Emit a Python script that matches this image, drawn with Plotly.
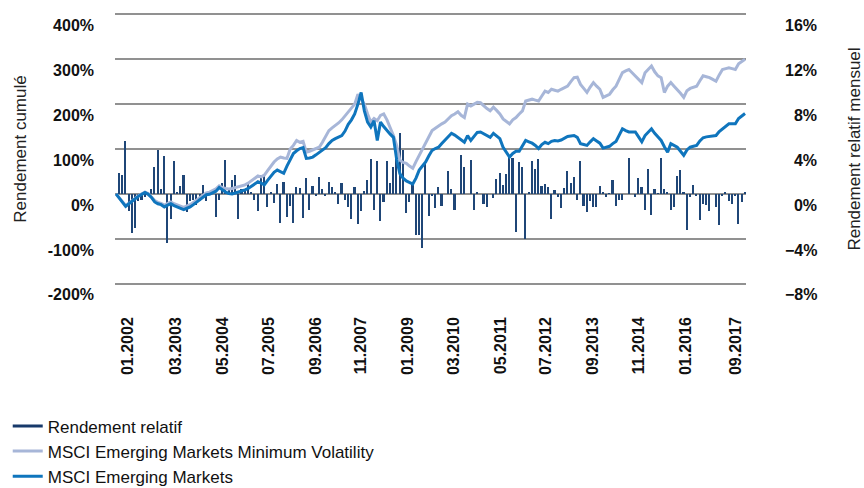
import plotly.graph_objects as go

# ---------------- data ----------------
x_ticklabels = ["01.2002", "03.2003", "05.2004", "07.2005", "09.2006", "11.2007", "01.2009",
                "03.2010", "05.2011", "07.2012", "09.2013", "11.2014", "01.2016", "09.2017"]

# cumulative return, MSCI Emerging Markets (%)
msci_em = [
    0, -9, -20, -28, -22, -16, -10, -5, -1, 3, -1, -8, -18, -22, -24, -29, -25, -22, -26, -29,
    -32, -35, -32, -29, -24, -19, -14, -8, -2, -1, 2, 6, 14, 8, 4, 1, 0, 2, 4, 6,
    9, 12, 17, 22, 27, 24, 20, 30, 40, 48, 53, 50, 46, 62, 78, 90, 96, 101, 103, 79,
    80, 82, 87, 92, 97, 103, 112, 119, 123, 127, 130, 140, 155, 165, 178, 200, 226, 185, 160, 149,
    163, 119, 160, 150, 141, 133, 126, 77, 45, 35, 29, 26, 22, 35, 53, 62, 71, 85, 97, 101,
    104, 112, 119, 127, 135, 131, 126, 120, 115, 130, 119, 128, 137, 138, 134, 130, 126, 135, 129, 123,
    104, 94, 82, 90, 95, 95, 106, 119, 116, 113, 108, 101, 110, 115, 112, 117, 119, 118, 120, 124,
    128, 129, 130, 126, 112, 110, 108, 116, 123, 118, 113, 102, 104, 106, 112, 117, 131, 145, 141, 138,
    138, 138, 127, 116, 130, 138, 145, 135, 126, 119, 105, 93, 112, 108, 104, 95, 86, 98, 104, 106,
    108, 118, 125, 127, 128, 129, 130, 139, 145, 152, 156, 156, 156, 168, 174, 179,
]

# cumulative return, MSCI Emerging Markets Minimum Volatility (%)
msci_em_minvol = [
    0, -8, -18, -26, -21, -15, -9, -4, 0, 4, 1, -6, -15, -19, -21, -25, -21, -18, -22, -25,
    -28, -30, -27, -24, -19, -14, -9, -4, 2, 4, 7, 11, 18, 14, 12, 11, 12, 14, 16, 18,
    20, 24, 30, 36, 40, 38, 42, 52, 62, 71, 78, 82, 80, 79, 100, 108, 119, 115, 117, 93,
    95, 98, 101, 104, 115, 128, 141, 147, 152, 158, 165, 174, 182, 190, 200, 222, 212, 200, 178, 160,
    168, 163, 175, 178, 165, 148, 130, 108, 75, 70, 68, 62, 57, 72, 86, 100, 112, 128, 141, 146,
    152, 156, 160, 167, 174, 178, 183, 175, 170, 200, 196, 200, 204, 203, 196, 190, 185, 193, 186, 178,
    167, 162, 156, 165, 170, 178, 185, 207, 209, 211, 209, 207, 218, 229, 226, 233, 231, 229, 233, 237,
    240, 250, 259, 260, 244, 235, 226, 238, 248, 240, 233, 215, 219, 222, 232, 240, 255, 270, 274, 277,
    270, 262, 255, 248, 270, 278, 285, 272, 263, 259, 226, 240, 248, 240, 233, 224, 215, 230, 235, 238,
    240, 252, 263, 261, 259, 255, 251, 265, 277, 279, 281, 279, 277, 290, 296, 300,
]

# monthly relative return (%)
relative_return = [
    0, 1.9, 1.7, 4.7, -1.5, -3.5, -3.0, -0.6, -0.5, -0.3, 0.1, 0.4, 2.4, 3.9, 0.4, 3.4, -4.4, -2.2, 2.9, 0.1,
    0.7, 1.7, -1.6, -0.6, -0.5, -1.0, -0.6, 0.8, -0.6, 0.2, 0.1, -2.1, -0.5, 1.0, 3.0, 0.4, 1.2, 1.7, -2.2, 0.4,
    0.4, 0.9, 0.1, -0.5, -1.5, 1.7, 1.7, -1.2, 0.2, -0.8, 0.9, -2.6, 1.1, -2.1, -1.1, -2.6, 0.6, 0.5, -2.15, 1.4,
    -1.4, 0.7, -0.2, 1.5, 0.4, -0.2, 1.1, 0.6, 0.1, -0.9, 1.0, -0.5, -1.2, -2.2, 0.6, -2.7, -1.5, 0.3, 1.2, 3.1,
    -1.4, 2.9, -2.4, -0.7, 2.9, 1.0, 2.4, 3.4, 5.4, 3.9, -1.7, -0.7, 1.0, -3.7, -3.7, -4.8, 2.8, -2.0, -0.2, -1.3,
    0.6, -1.1, 0.0, 2.0, 0.4, -1.4, 0.0, 3.5, 2.4, 0.0, 3.0, -1.4, 0.1, 0.0, -0.9, -1.2, 0.0, -0.4, 1.3, 1.9,
    0.8, 1.8, 3.5, 3.2, -3.4, 2.8, 2.4, -4.0, 0.15, 2.9, 2.2, 3.1, 0.7, 0.85, 0.65, -2.2, 0.35, -0.25, -1.3, 0.55,
    2.0, 1.0, 1.5, -0.5, 2.9, -1.05, -1.65, -0.6, -1.15, -1.15, 0.7, 0.1, -0.3, 0.05, 1.25, -1.05, -0.5, -0.5, 0.0, 3.2,
    0.0, -0.25, 1.45, 0.6, -1.4, 2.2, -1.9, 0.4, 0.05, 3.2, 0.4, 0.2, -1.4, -1.2, 1.6, 2.1, 0.2, -3.2, -0.3, 0.8,
    -0.2, -2.35, -0.9, -1.0, -1.5, 0.0, -1.2, -2.8, -0.2, 0.1, -0.6, -0.9, -0.2, -2.65, -0.7, 0.1,
]

left_tickvals = [-200, -100, 0, 100, 200, 300, 400]
left_ticktext = ["-200%", "-100%", "0%", "100%", "200%", "300%", "400%"]
right_tickvals = [-8, -4, 0, 4, 8, 12, 16]
right_ticktext = ["\u22128%", "\u22124%", "\u20070%", "\u20074%", "\u20078%", "12%", "16%"]

months = list(range(len(msci_em)))

# ---------------- styles ----------------
FONT = "Liberation Sans, Arial, Helvetica, sans-serif"
C_BAR = "#1f4677"
C_BAR_LEG = "#17396a"
C_MINVOL = "#a7b6d8"
C_EM = "#0f75bd"
C_GRID = "#919191"
x_tickpos = [3.7, 18.6, 33.1, 47.4, 61.9, 75.9, 90.4, 104.6, 119.2, 133.4, 147.7, 162.2, 176.5, 192]

fig = go.Figure()
fig.add_trace(go.Bar(x=months, y=relative_return, yaxis="y", marker=dict(color=C_BAR, line=dict(width=0)),
                     width=0.5, showlegend=False, name="Rendement relatif"))
fig.add_trace(go.Scatter(x=[None], y=[None], yaxis="y2", mode="lines", line=dict(color=C_BAR_LEG, width=3),
                         name="Rendement relatif"))
fig.add_trace(go.Scatter(x=months, y=msci_em_minvol, yaxis="y2", mode="lines",
                         line=dict(color=C_MINVOL, width=3), name="MSCI Emerging Markets Minimum Volatility"))
fig.add_trace(go.Scatter(x=months, y=msci_em, yaxis="y2", mode="lines",
                         line=dict(color=C_EM, width=3), name="MSCI Emerging Markets"))

tickfont = dict(family=FONT, size=16, color="#111111", weight="bold")
titlefont = dict(family=FONT, size=17, color="#222222")

fig.update_layout(
    width=864, height=488,
    margin=dict(l=115, r=118, t=13, b=203, autoexpand=False),
    paper_bgcolor="white", plot_bgcolor="white",
    font=dict(family=FONT, color="#111111"),
    bargap=0,
    xaxis=dict(range=[-0.3, 195.3], tickvals=x_tickpos, ticktext=x_ticklabels, tickangle=-90,
               tickfont=tickfont, showgrid=False, zeroline=False, showline=False, ticks="",
               ticklabelstandoff=28),
    yaxis=dict(side="right", range=[-8.12, 16.12], tickvals=right_tickvals, ticktext=right_ticktext,
               tickfont=tickfont, showgrid=True, gridcolor=C_GRID, gridwidth=1.5, zeroline=False,
               showline=False, ticks="", ticklabelstandoff=38, ticklabelposition="outside bottom",
               title=dict(text="Rendement relatif mensuel", font=titlefont, standoff=36)),
    yaxis2=dict(overlaying="y", side="left", range=[-203, 403], tickvals=left_tickvals,
                ticktext=left_ticktext, tickfont=tickfont, showgrid=False, zeroline=False,
                showline=False, ticks="", ticklabelstandoff=20, ticklabelposition="outside bottom",
                title=dict(text="Rendement cumulé", font=titlefont, standoff=16)),
    legend=dict(xref="paper", yref="container", x=-0.17, y=0.163, xanchor="left", yanchor="top",
                font=dict(family=FONT, size=17, color="#111111"), tracegroupgap=0,
                bgcolor="rgba(0,0,0,0)"),
)

fig.write_html("out.html", config={"displayModeBar": False},
               post_script="document.body.style.margin='0';document.body.style.padding='0';")
